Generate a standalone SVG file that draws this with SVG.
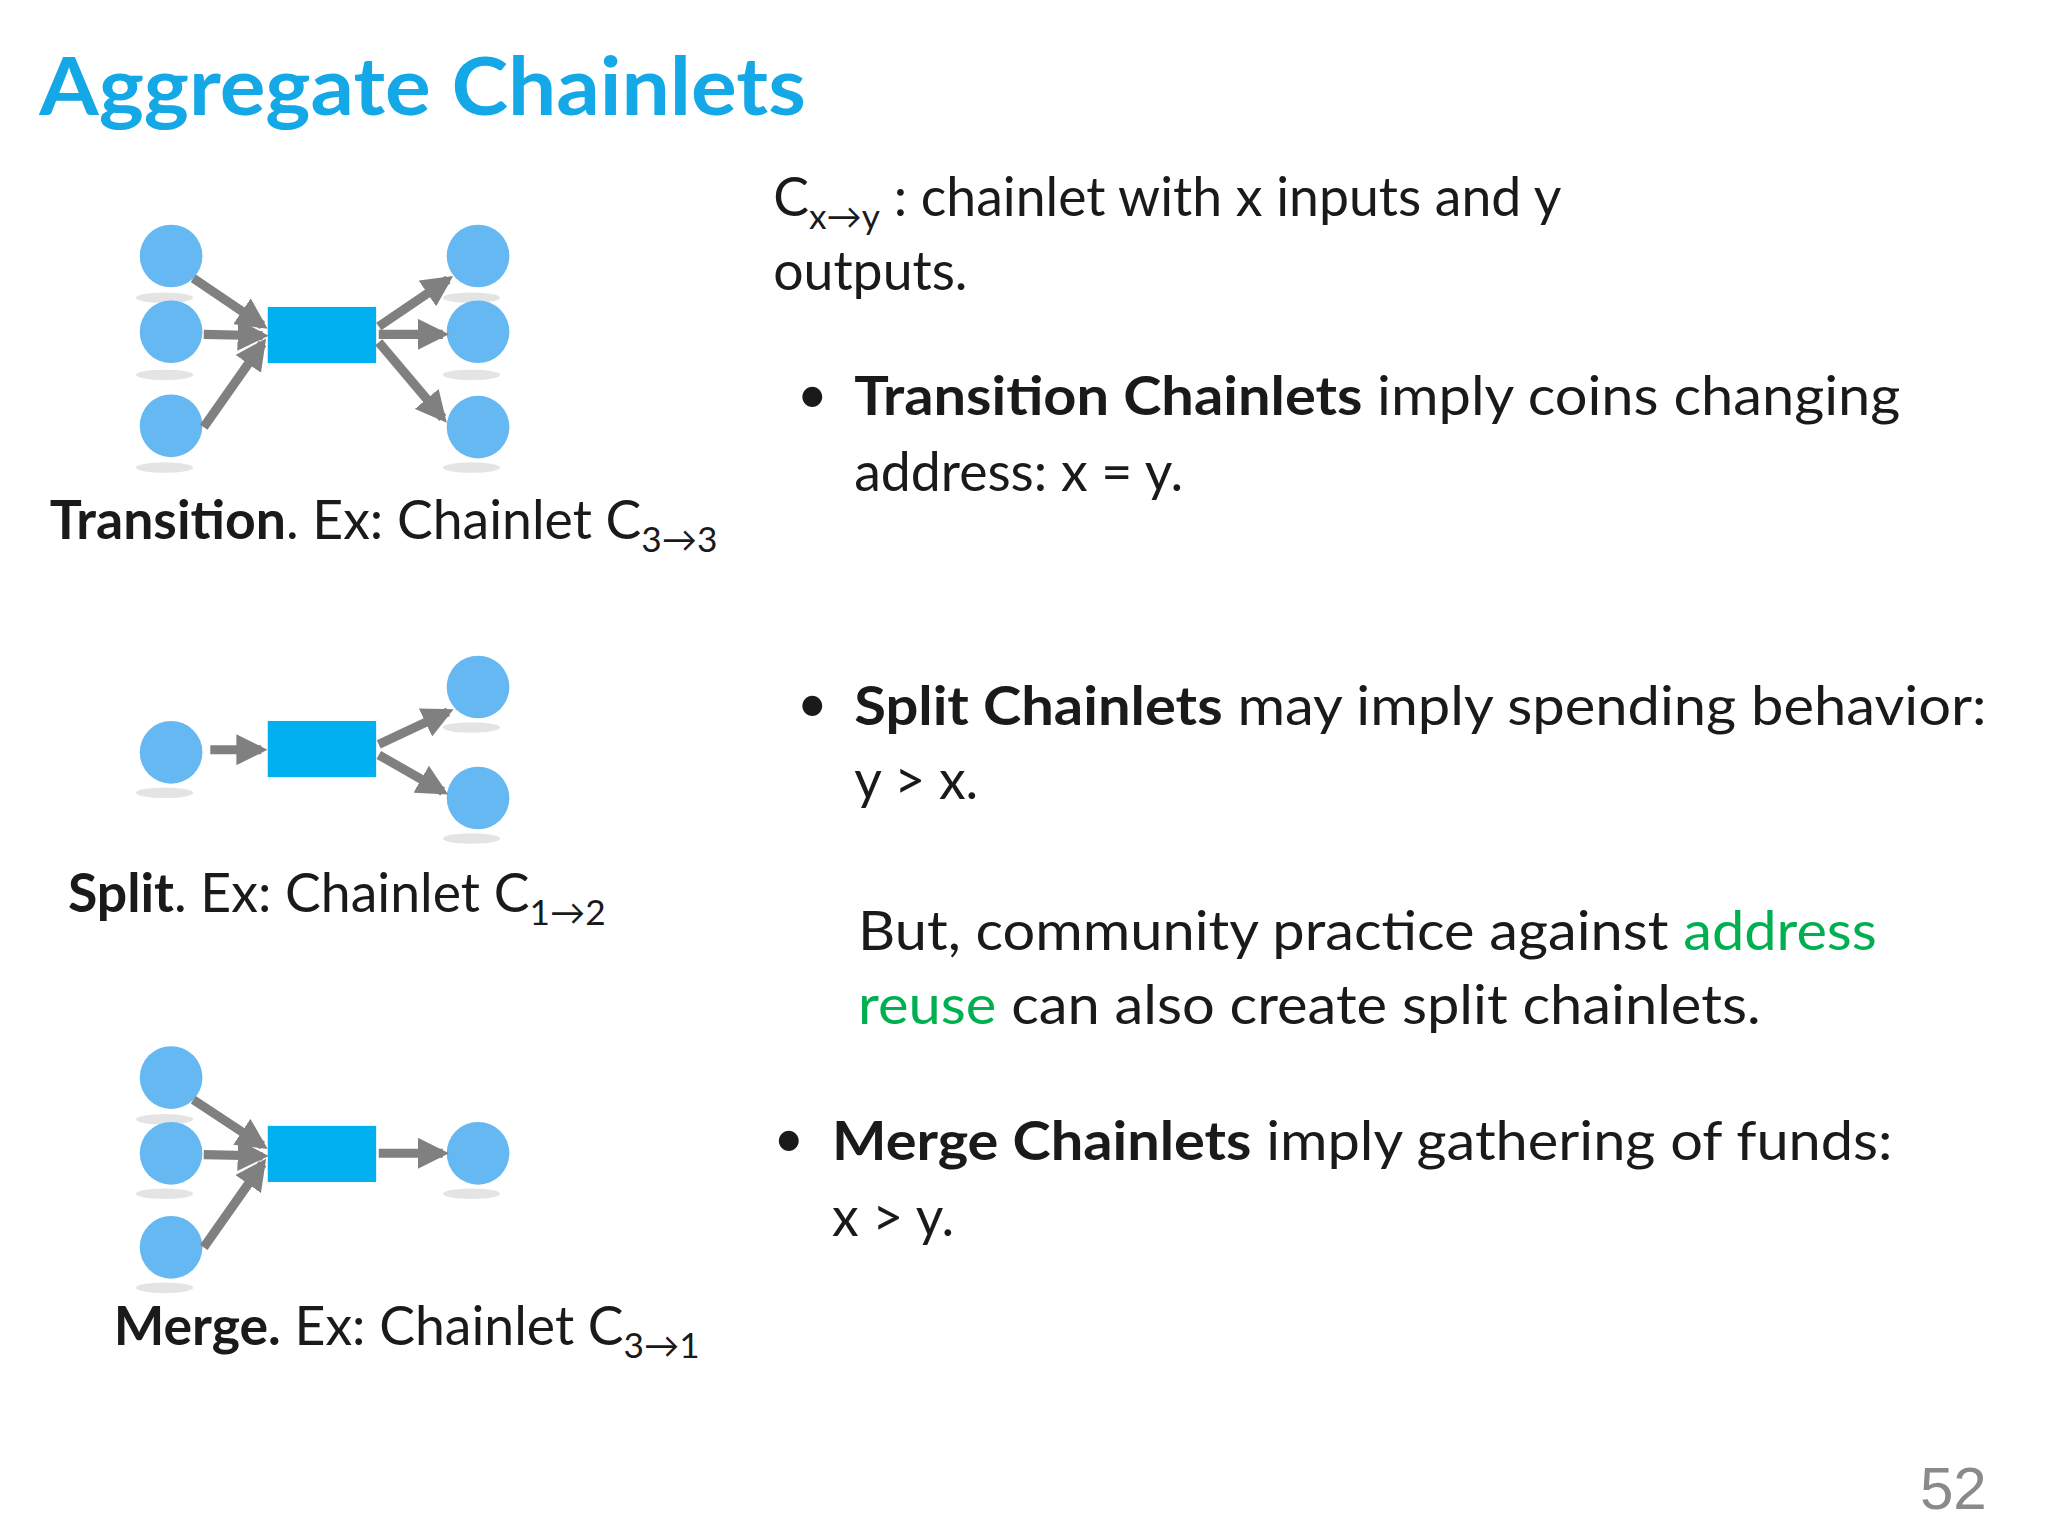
<svg xmlns="http://www.w3.org/2000/svg" width="2048" height="1536" viewBox="0 0 2048 1536">
<style>
.t{font-family:Lato,"Open Sans","Liberation Sans",sans-serif;fill:#1a1a1a;font-size:41px}
.b{font-weight:bold}
.g{fill:#00b050}
.c{fill:#66b8f2}
.sh{fill:#d8d8d8;opacity:0.7}
.r{fill:#00b0f0}
.a{stroke:#808080;stroke-width:7;fill:none;marker-end:url(#ah)}
.s{font-size:27px}
</style>
<defs>
<marker id="ah" viewBox="0 0 10 10" refX="8" refY="5" markerWidth="3.4" markerHeight="3.4" orient="auto" markerUnits="strokeWidth">
<path d="M0,0 L10,5 L0,10 z" fill="#808080"/>
</marker>
</defs>
<rect width="2048" height="1536" fill="#ffffff"/>
<g transform="scale(1.3061)">
<text x="30" y="88" style="font-family:Lato,'Open Sans',sans-serif;font-weight:bold;font-size:62px;fill:#14a8e6" textLength="587" lengthAdjust="spacingAndGlyphs">Aggregate Chainlets</text>

<g id="transition">
<ellipse class="sh" cx="126" cy="228" rx="22" ry="4"/><ellipse class="sh" cx="126" cy="287" rx="22" ry="4"/><ellipse class="sh" cx="126" cy="358" rx="22" ry="4"/>
<ellipse class="sh" cx="361" cy="228" rx="22" ry="4"/><ellipse class="sh" cx="361" cy="287" rx="22" ry="4"/><ellipse class="sh" cx="361" cy="358" rx="22" ry="4"/>
<circle class="c" cx="131" cy="196" r="24"/><circle class="c" cx="131" cy="254" r="24"/><circle class="c" cx="131" cy="326" r="24"/>
<circle class="c" cx="366" cy="196" r="24"/><circle class="c" cx="366" cy="254" r="24"/><circle class="c" cx="366" cy="327" r="24"/>
<rect class="r" x="205" y="235" width="83" height="43"/>
<text class="t" x="38" y="413"><tspan class="b">Transition</tspan>. Ex: Chainlet C<tspan class="s" dy="10">3→3</tspan></text>
</g>
<g id="split">
<ellipse class="sh" cx="126" cy="607" rx="22" ry="4"/><ellipse class="sh" cx="361" cy="557" rx="22" ry="4"/><ellipse class="sh" cx="361" cy="642" rx="22" ry="4"/>
<circle class="c" cx="131" cy="576" r="24"/><circle class="c" cx="366" cy="526" r="24"/><circle class="c" cx="366" cy="611" r="24"/>
<rect class="r" x="205" y="552" width="83" height="43"/>
<text class="t" x="52" y="698"><tspan class="b">Split</tspan>. Ex: Chainlet C<tspan class="s" dy="10">1→2</tspan></text>
</g>
<g id="merge">
<ellipse class="sh" cx="126" cy="857" rx="22" ry="4"/><ellipse class="sh" cx="126" cy="914" rx="22" ry="4"/><ellipse class="sh" cx="126" cy="986" rx="22" ry="4"/><ellipse class="sh" cx="361" cy="914" rx="22" ry="4"/>
<circle class="c" cx="131" cy="825" r="24"/><circle class="c" cx="131" cy="883" r="24"/><circle class="c" cx="131" cy="955" r="24"/><circle class="c" cx="366" cy="883" r="24"/>
<rect class="r" x="205" y="862" width="83" height="43"/>
<text class="t" x="87" y="1030"><tspan class="b">Merge.</tspan> Ex: Chainlet C<tspan class="s" dy="10">3→1</tspan></text>
</g>
<g id="connectors">
<line class="a" x1="148" y1="213" x2="201" y2="249"/>
<line class="a" x1="156" y1="256" x2="201" y2="257"/>
<line class="a" x1="156" y1="327" x2="201" y2="263"/>
<line class="a" x1="290" y1="250" x2="343" y2="214"/>
<line class="a" x1="290" y1="256" x2="339" y2="256"/>
<line class="a" x1="290" y1="262" x2="339" y2="320"/>
<line class="a" x1="161" y1="574" x2="200" y2="574"/>
<line class="a" x1="290" y1="570" x2="343" y2="545"/>
<line class="a" x1="290" y1="578" x2="339" y2="606"/>
<line class="a" x1="148" y1="842" x2="201" y2="877"/>
<line class="a" x1="156" y1="884" x2="201" y2="885"/>
<line class="a" x1="156" y1="955" x2="201" y2="891"/>
<line class="a" x1="290" y1="883" x2="339" y2="883"/>
</g>
<g id="text">
<text class="t" x="592" y="165">C<tspan class="s" dy="10">x→y</tspan><tspan dy="-10"> : chainlet with x inputs and y</tspan></text>
<text class="t" x="592" y="222">outputs.</text>
<text class="t" x="610" y="316">•</text>
<text class="t" x="654" y="318" textLength="801" lengthAdjust="spacingAndGlyphs"><tspan class="b">Transition Chainlets</tspan> imply coins changing</text>
<text class="t" x="654" y="376">address: x = y.</text>
<text class="t" x="610" y="553">•</text>
<text class="t" x="654" y="555" textLength="867" lengthAdjust="spacingAndGlyphs"><tspan class="b">Split Chainlets</tspan> may imply spending behavior:</text>
<text class="t" x="654" y="612">y &gt; x.</text>
<text class="t" x="657" y="727" textLength="780" lengthAdjust="spacingAndGlyphs">But, community practice against <tspan class="g">address</tspan></text>
<text class="t" x="657" y="784" textLength="691" lengthAdjust="spacingAndGlyphs"><tspan class="g">reuse</tspan> can also create split chainlets.</text>
<text class="t" x="592" y="886">•</text>
<text class="t" x="637" y="888" textLength="812" lengthAdjust="spacingAndGlyphs"><tspan class="b">Merge Chainlets</tspan> imply gathering of funds:</text>
<text class="t" x="637" y="946">x &gt; y.</text>
<text x="1470" y="1155" style="font-family:'Liberation Sans',Arial,sans-serif;font-size:46px;fill:#8a8a8a">52</text>
</g>
</g>
</svg>
